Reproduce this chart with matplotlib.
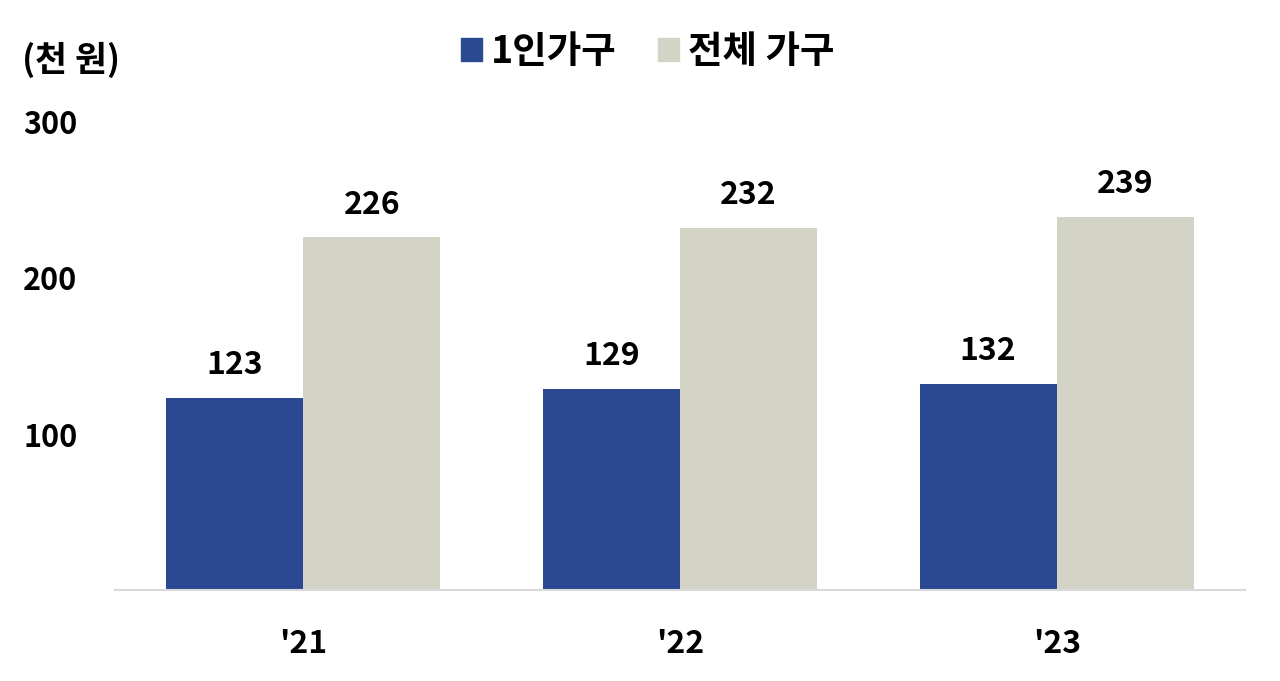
import matplotlib
matplotlib.use("Agg")
import matplotlib.pyplot as plt
from matplotlib.patches import Patch
import numpy as np

plt.rcParams['font.family'] = ['Noto Sans CJK KR', 'DejaVu Sans']

years = ["'21", "'22", "'23"]
single = [123, 129, 132]
total = [226, 232, 239]
labels = ['1인가구', '전체 가구']
colors = ['#2B4892', '#D3D4C5']

fig = plt.figure(figsize=(12.8, 6.81), dpi=100)
ax = fig.add_axes([0.0898, 0.1336, 0.8829, 0.6873])

x = np.arange(len(years))
w = 0.364
b1 = ax.bar(x - w / 2, single, w, color=colors[0])
b2 = ax.bar(x + w / 2, total, w, color=colors[1])

for bars in (b1, b2):
    for r in bars:
        ax.annotate(f'{r.get_height():.0f}', (r.get_x() + r.get_width() / 2, r.get_height()),
                    xytext=(0, 12), textcoords='offset points', ha='center', va='bottom',
                    fontsize=23, fontweight='bold')

ax.set_xlim(-0.5, 2.5)
ax.set_ylim(0, 300)
ax.set_yticks([100, 200, 300])
ax.set_xticks(x)
ax.set_xticklabels(years)
for s in ['top', 'right', 'left']:
    ax.spines[s].set_visible(False)
ax.spines['bottom'].set_color('#D9D9D9')
ax.spines['bottom'].set_linewidth(1.5)
ax.tick_params(axis='both', length=0)
ax.tick_params(axis='y', pad=27, labelsize=22)
ax.tick_params(axis='x', pad=27, labelsize=23)
for t in ax.get_xticklabels() + ax.get_yticklabels():
    t.set_fontweight('bold')

fig.text(0.017, 0.912, '(천 원)', fontsize=25, fontweight='bold', va='center')

handles = [Patch(color=c) for c in colors]
fig.legend(handles, labels, loc='center', bbox_to_anchor=(0.506, 0.925), ncol=2,
           frameon=False, prop={'size': 27, 'weight': 'bold'},
           handlelength=0.55, handleheight=0.55, handletextpad=0.25, columnspacing=1.1)

fig.savefig('out.png', dpi=100)
